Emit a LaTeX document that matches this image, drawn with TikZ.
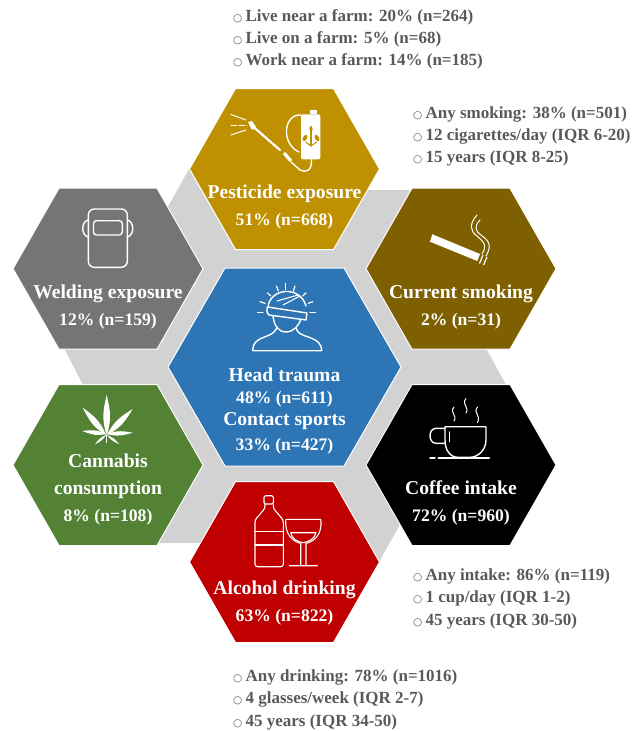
\documentclass[tikz,border=0pt]{standalone}
\usepackage{fontspec}
\setmainfont{Liberation Serif}
\newfontfamily\symfont{DejaVu Sans}
\usetikzlibrary{calc}
\definecolor{cgrey}{HTML}{D2D2D2}
\definecolor{cpest}{HTML}{BF9000}
\definecolor{csmoke}{HTML}{7F6000}
\definecolor{cweld}{HTML}{757575}
\definecolor{ccann}{HTML}{548235}
\definecolor{calco}{HTML}{C00000}
\definecolor{chead}{HTML}{2E75B6}
\definecolor{ctext}{HTML}{595959}
\newcommand{\hexa}[5]{% cx, cy, R, halftop, halfheight ; colour via #5
  \fill[#5,draw=white,line width=1pt,line join=miter] (#1-#3,#2) -- (#1-#4,#2-80.5) -- (#1+#4,#2-80.5) -- (#1+#3,#2) -- (#1+#4,#2+80.5) -- (#1-#4,#2+80.5) -- cycle;}
\newcommand{\leafshape}[3]{\fill[white] (#1) .. controls ($(#1)!.4!(#2)!#3!90:(#2)$) and ($(#1)!.65!(#2)!#3*.6!90:(#2)$) .. (#2) .. controls ($(#1)!.65!(#2)!#3*.6!-90:(#2)$) and ($(#1)!.4!(#2)!#3!-90:(#2)$) .. (#1) -- cycle;}
\newcommand{\blt}[1]{{\symfont\fontsize{10.5}{12}\selectfont ○}\hspace{3.2pt}#1}
\tikzset{
  x=1pt,y=-1pt,
  hextitle/.style={text=white,font=\fontsize{19.6}{22}\bfseries\selectfont,anchor=base,inner sep=0pt},
  hexstat/.style={text=white,font=\fontsize{17.6}{20}\bfseries\selectfont,anchor=base,inner sep=0pt},
  listline/.style={text=ctext,font=\fontsize{17}{20}\bfseries\selectfont,anchor=base west,inner sep=0pt},
  icon/.style={draw=white,line width=1.4pt,line cap=round,line join=round},
}
\begin{document}
\begin{tikzpicture}
\useasboundingbox (0,0) rectangle (633,731);
% grey backing
\fill[cgrey] (189,169) -- (300,190) -- (412,190) -- (487,350) -- (505,383) -- (520,410) -- (440,455)
  -- (398,528) -- (379,562) -- (300,543) -- (158,543) -- (82,383) -- (65,350) -- (60,340) -- (120,280) -- (170,203) -- cycle;
% hexagons
\hexa{284.5}{169}{95}{49}{cpest}
\hexa{461}{268.7}{95}{49}{csmoke}
\hexa{108}{268.7}{95}{49}{cweld}
\hexa{108}{465}{95}{49}{ccann}
\hexa{461}{465}{95}{49}{black}
\hexa{284.5}{562}{95}{49}{calco}
\fill[chead,draw=white,line width=1pt] (168,367) -- (225,268) -- (344,268) -- (401,367) -- (344,466) -- (225,466) -- cycle;
% hexagon texts
\node[hextitle] (tpest) at (284.5,198) {Pesticide exposure};
\node[hexstat] (spest) at (284.5,225) {51\% (n=668)};
\node[hextitle] (tsmoke) at (461,298) {Current smoking};
\node[hexstat] (ssmoke) at (461,325) {2\% (n=31)};
\node[hextitle] (tweld) at (108,298) {Welding exposure};
\node[hexstat] (sweld) at (108,325) {12\% (n=159)};
\node[hextitle] (thead) at (284.5,381) {Head trauma};
\node[hexstat] (shead) at (284.5,403) {48\% (n=611)};
\node[hextitle] (tsport) at (284.5,425) {Contact sports};
\node[hexstat] (ssport) at (284.5,450) {33\% (n=427)};
\node[hextitle] (tcann) at (108,467) {Cannabis};
\node[hextitle] (tcons) at (108,494) {consumption};
\node[hexstat] (scann) at (108,521) {8\% (n=108)};
\node[hextitle] (tcof) at (461,494) {Coffee intake};
\node[hexstat] (scof) at (461,521) {72\% (n=960)};
\node[hextitle] (talc) at (284.5,594) {Alcohol drinking};
\node[hexstat] (salc) at (284.5,621) {63\% (n=822)};
% lists
\node[listline] (l1) at (233,21) {\blt{Live near a farm: 20\% (n=264)}};
\node[listline] (l2) at (233,43) {\blt{Live on a farm: 5\% (n=68)}};
\node[listline] (l3) at (233,65) {\blt{Work near a farm: 14\% (n=185)}};
\node[listline] (l4) at (413,118) {\blt{Any smoking: 38\% (n=501)}};
\node[listline] (l5) at (413,140) {\blt{12 cigarettes/day (IQR 6-20)}};
\node[listline] (l6) at (413,162) {\blt{15 years (IQR 8-25)}};
\node[listline] (l7) at (413,580) {\blt{Any intake: 86\% (n=119)}};
\node[listline] (l8) at (413,602) {\blt{1 cup/day (IQR 1-2)}};
\node[listline] (l9) at (413,625) {\blt{45 years (IQR 30-50)}};
\node[listline] (l10) at (233,681) {\blt{Any drinking: 78\% (n=1016)}};
\node[listline] (l11) at (233,703) {\blt{4 glasses/week (IQR 2-7)}};
\node[listline] (l12) at (233,726) {\blt{45 years (IQR 34-50)}};
% pesticide icon
\fill[white,rounded corners=2pt] (301,114.3) rectangle (320.3,159.3);
\fill[white] (310,110) rectangle (317.3,113.5);
\draw[icon] (301,115) .. controls (283,114) and (281,144) .. (299,152);
\draw[icon] (311.5,159.5) .. controls (312,171) and (306,173) .. (300,170) -- (291,162);
\draw[icon,line width=2.2pt] (250,124) -- (280,150);
\fill[white] (248,122) -- (252,121) -- (256,127) -- (252,130) -- cycle;
\draw[icon,line width=3.2pt,line cap=butt] (284,153) -- (291,161);
\draw[icon,line width=1pt] (231,114.5) -- (246,120);
\draw[icon,line width=1pt,dashed,dash pattern=on 6pt off 2pt] (231,125) -- (247,125);
\draw[icon,line width=1pt] (231,135) -- (246,130);
\draw[cpest,line width=1.1pt] (311,129) -- (311,146);
\fill[cpest] (311,129) ellipse (1.6 and 3);
\fill[cpest,rotate around={-30:(305,138)}] (305,138) ellipse (2 and 3.4);
\fill[cpest,rotate around={30:(317,138)}] (317,138) ellipse (2 and 3.4);
\draw[cpest,line width=1pt] (305.5,142) -- (311,146) -- (316.5,142);
% welding icon
\draw[icon,rounded corners=6pt] (88.3,209) rectangle (127.3,267.3);
\draw[icon,rounded corners=3pt] (93.5,220.7) rectangle (122.3,235);
\draw[icon] (88,220) .. controls (81,222) and (81,235) .. (88,237);
\draw[icon] (127.5,220) .. controls (134.5,222) and (134.5,235) .. (127.5,237);
% smoking icon
\fill[white] (432.3,234.3) -- (430,241.7) -- (477.3,261) -- (480,254) -- cycle;
\draw[icon,line width=1.2pt,line cap=butt] (483,255) -- (479.5,263.5);
\draw[icon,line width=1.2pt,line cap=butt] (487,257) -- (483.5,265);
\draw[icon,line width=1pt] (477,215) .. controls (469,224) and (470,231) .. (477,236) .. controls (485,243) and (487,246) .. (482,254);
\draw[icon,line width=1pt] (480,220) .. controls (474,226) and (475,231) .. (481,235) .. controls (491,242) and (491,247) .. (486,256);
% head icon
\draw[icon,line width=1.2pt] (285.7,283.5) -- (285.7,289.5);
\draw[icon,line width=1.2pt] (276.5,286) -- (278.3,291);
\draw[icon,line width=1.2pt] (295,286) -- (293.3,291);
\draw[icon,line width=1.2pt] (267.3,292.7) -- (270.7,296);
\draw[icon,line width=1.2pt] (306,292.7) -- (302.7,296);
\draw[icon,line width=1.2pt] (260,301.7) -- (265,303.3);
\draw[icon,line width=1.2pt] (312.7,301.7) -- (308.3,303.3);
\draw[icon,line width=1.2pt] (257.5,312.5) -- (263,312.5);
\draw[icon,line width=1.2pt] (310,312.5) -- (315.7,312.5);
\draw[icon] (268,307) .. controls (270,288) and (300,285) .. (306,306);
\draw[icon] (267.5,307) -- (307,313) -- (306,320) -- (269,315) .. controls (266.5,313) and (266.5,309) .. (267.5,307);
\draw[icon,line width=1.1pt] (283,305) -- (300,296);
\draw[icon,line width=1.1pt] (277,301) -- (298,295);
\draw[icon] (273,316) .. controls (274,325) and (278,332) .. (286,332) .. controls (294,332) and (299,325) .. (301,319);
\draw[icon] (277,328) -- (274,332) .. controls (268,338) and (253,337) .. (252.7,350) -- (252.7,350.7) -- (321.7,350.7) -- (321.7,350) .. controls (321,337) and (304,338) .. (298,332) -- (296,328);
% cannabis icon
\leafshape{106.7,435}{106.7,395}{5.5pt}
\leafshape{106,435}{82.7,407.7}{5pt}
\leafshape{107,435}{132.7,409}{5pt}
\leafshape{106,434}{82.3,431}{3.5pt}
\leafshape{107,434}{132.7,432.7}{3.5pt}
\leafshape{106,435}{95,444.3}{2pt}
\leafshape{107,435}{119.3,444.3}{2pt}
\draw[white,line width=.7pt] (106.7,435) -- (106.7,443);
% coffee icon
\draw[icon] (445,426.7) -- (486,426.7) -- (486,440) .. controls (486,450) and (478,457.3) .. (470,457.3) -- (458,457.3) .. controls (450,457.3) and (445,450) .. (445,440) -- cycle;
\draw[icon] (445,428.3) -- (436,428.3) .. controls (428,428.3) and (428,443.3) .. (436,443.3) -- (445.5,443.3);
\draw[icon,line width=1.1pt] (449.3,432) -- (449.3,441.7);
\draw[icon] (438.3,458) -- (489.3,458);
\draw[icon] (430,458) -- (435,458);
\draw[icon,line width=1pt] (454,407) .. controls (449,413) and (458,415) .. (454,421);
\draw[icon,line width=1pt] (466,398.5) .. controls (461,405) and (470,407) .. (466,413);
\draw[icon,line width=1pt] (477.5,407) .. controls (472.5,413) and (481.5,415) .. (477.5,422.5);
% alcohol icon
\draw[icon,line width=1.1pt,rounded corners=1.5pt] (264,495.7) rectangle (273.3,504);
\draw[icon,line width=1.1pt,rounded corners=2.5pt] (265,504) -- (265,508.3) -- (255,520) -- (255,566.7) -- (283.3,566.7) -- (283.3,520) -- (273.3,508.3) -- (273.3,504);
\draw[icon,line width=1.1pt] (255,531.7) -- (283.3,531.7);
\draw[icon,line width=1.1pt] (255,545) -- (283.3,545);
\draw[icon,line width=1.1pt] (286,519.3) -- (320.7,519.3) .. controls (323,535) and (313,542) .. (306,543.3) -- (306,565.7) -- (317.3,565.7) -- (289.3,565.7) -- (300.7,565.7) -- (300.7,543.3) .. controls (294,542) and (284,535) .. (286,519.3) -- cycle;
\draw[icon,line width=1.1pt] (290.7,532.7) -- (316,532.7) .. controls (315,539) and (308,542) .. (303.3,542.7) .. controls (298,542) and (291.7,539) .. (290.7,532.7) -- cycle;
\end{tikzpicture}
\end{document}
